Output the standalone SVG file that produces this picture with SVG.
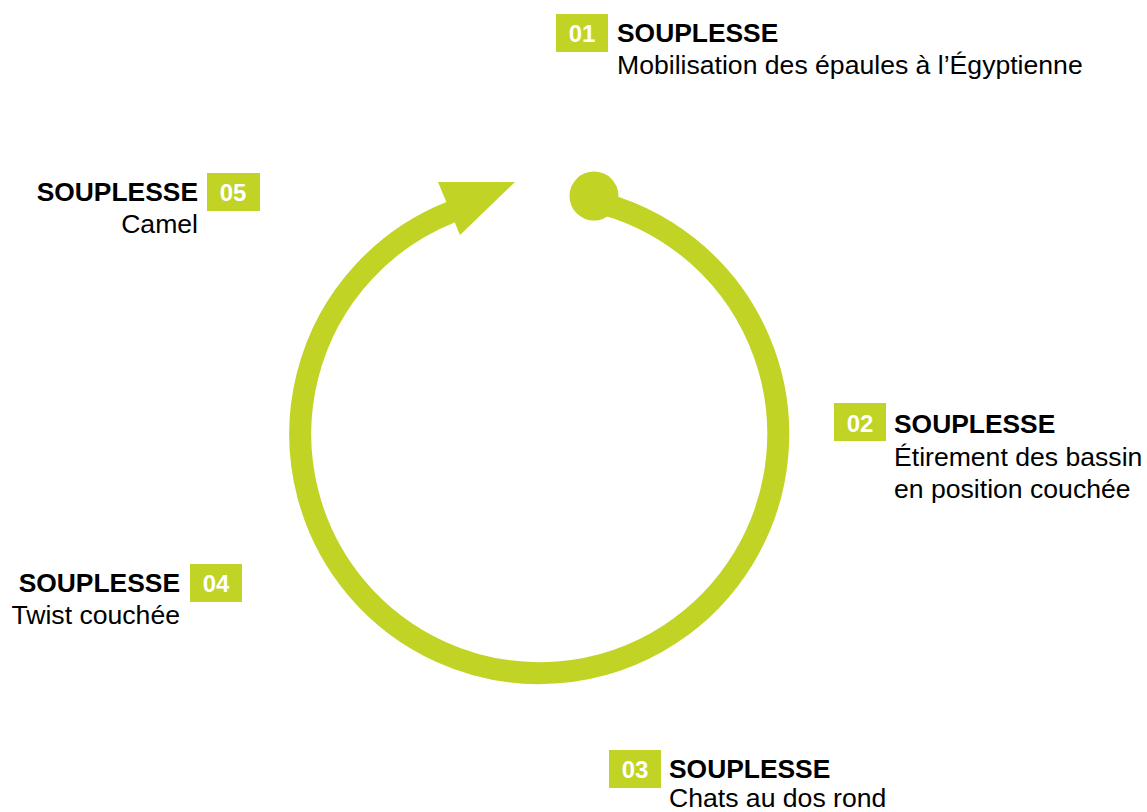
<svg xmlns="http://www.w3.org/2000/svg" width="1147" height="812" viewBox="0 0 1147 812">
<style>
.box{fill:#C1D325}
.num{font-family:"Liberation Sans",Arial,sans-serif;font-weight:bold;font-size:24px;fill:#fff;text-anchor:middle}
.ttl{font-family:"Liberation Sans",Arial,sans-serif;font-weight:bold;font-size:26.4px;fill:#000}
.sub{font-family:"Liberation Sans",Arial,sans-serif;font-size:26.6px;fill:#000}
.r{text-anchor:end}
</style>
<rect width="1147" height="812" fill="#fff"/>
<g id="connectors">
<path d="M592 201 A239 239 0 1 1 451 212" fill="none" stroke="#C1D325" stroke-width="22"/>
<polygon points="438,182 515,182 460,235" fill="#C1D325"/>
<circle cx="594" cy="196" r="24.5" fill="#C1D325"/>
</g>
<g id="node01">
<rect class="box" x="556" y="14" width="52" height="38"/>
<text class="num" x="582" y="42">01</text>
<text class="ttl" x="617" y="42">SOUPLESSE</text>
<text class="sub" x="617" y="74">Mobilisation des épaules à l’Égyptienne</text>
</g>
<g id="node02">
<rect class="box" x="834" y="403" width="52" height="38"/>
<text class="num" x="860" y="432">02</text>
<text class="ttl" x="894" y="433">SOUPLESSE</text>
<text class="sub" x="894" y="466">Étirement des bassin</text>
<text class="sub" x="894" y="498">en position couchée</text>
</g>
<g id="node03">
<rect class="box" x="609" y="750" width="52" height="38"/>
<text class="num" x="635" y="778">03</text>
<text class="ttl" x="669" y="778">SOUPLESSE</text>
<text class="sub" x="669" y="807">Chats au dos rond</text>
</g>
<g id="node04">
<rect class="box" x="190" y="564" width="52" height="38"/>
<text class="num" x="216" y="592">04</text>
<text class="ttl r" x="180" y="592">SOUPLESSE</text>
<text class="sub r" x="180" y="624">Twist couchée</text>
</g>
<g id="node05">
<rect class="box" x="207" y="173" width="53" height="38"/>
<text class="num" x="233" y="201">05</text>
<text class="ttl r" x="198" y="201">SOUPLESSE</text>
<text class="sub r" x="198" y="233">Camel</text>
</g>
</svg>
